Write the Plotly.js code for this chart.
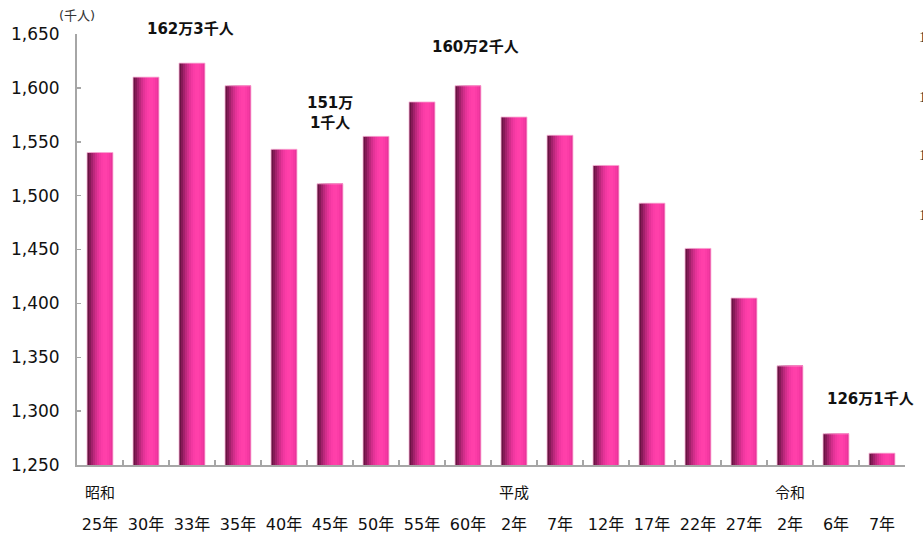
<!DOCTYPE html>
<html>
<head>
<meta charset="utf-8">
<script src="https://cdn.plot.ly/plotly-3.0.1.min.js"></script>
<style>
html,body{margin:0;padding:0;background:#fff;}
#chart{width:923px;height:535px;}
</style>
</head>
<body>
<div id="chart"></div>
<script>
// ---- data ----
const categories = ['昭和25年','昭和30年','昭和33年','昭和35年','昭和40年','昭和45年','昭和50年','昭和55年','昭和60年',
  '平成2年','平成7年','平成12年','平成17年','平成22年','平成27年','令和2年','令和6年','令和7年'];
const tickLabels = ['25年','30年','33年','35年','40年','45年','50年','55年','60年',
  '2年','7年','12年','17年','22年','27年','2年','6年','7年'];
const values = [1540,1610,1623,1602,1543,1511,1555,1587,1602,1573,1556,1528,1493,1451,1405,1342,1279,1261];
const eraLabels = [['昭和25年','昭和'],['平成2年','平成'],['令和2年','令和']];
const callouts = [
  {cat:'昭和33年', y:1655, text:'162万3千人', dx:-2},
  {cat:'昭和60年', y:1638, text:'160万2千人', dx:7},
  {cat:'昭和45年', y:1577, text:'151万<br>1千人', dx:0},
  {cat:'令和7年', y:1311, text:'126万1千人', dx:-12}
];
const unitLabel = '(千人)';
const yMin = 1250, yMax = 1650;

// ---- styling ----
const FONT = 'DejaVu Sans, Noto Sans CJK JP, sans-serif';
const stripeColors = ['#6a1343','#861a57','#a2216b','#bc287c','#d22e8b','#e53398','#f238a1','#fb3ca7','#ff3fa9','#ff40aa','#fc3ca7','#f538a2','#ea349b'];
const barWidth = 0.565;
const n = stripeColors.length;
const sw = barWidth / n;

// each stripe spans from its own left edge to the bar's right edge; later stripes cover earlier ones
const traces = stripeColors.map((c, i) => ({
  type: 'bar',
  x: categories,
  y: values,
  width: barWidth - i*sw,
  offset: -barWidth/2 + i*sw,
  marker: {color: c, line: {width: 0}},
  hoverinfo: 'skip',
  showlegend: false
}));
traces.push({
  type: 'bar',
  x: categories,
  y: values,
  width: barWidth,
  offset: -barWidth/2,
  marker: {color: 'rgba(0,0,0,0)', line: {color: 'rgba(250,185,218,0.85)', width: 1}},
  hoverinfo: 'skip',
  showlegend: false
});

const annotations = [];
callouts.forEach(c => annotations.push({
  xref: 'x', yref: 'paper', x: c.cat, y: (c.y - yMin) / (yMax - yMin), yanchor: 'middle',
  text: '<b>' + c.text + '</b>',
  showarrow: false, xshift: c.dx, font: {family: FONT, size: 15, color: '#111'}
}));
eraLabels.forEach(e => annotations.push({
  xref: 'x', yref: 'paper', x: e[0], y: -0.065, yanchor: 'middle', text: e[1],
  showarrow: false, font: {family: FONT, size: 15, color: '#111'}
}));
annotations.push({
  xref: 'paper', yref: 'paper', x: 0, y: 1.0, xanchor: 'center', yanchor: 'bottom', yshift: 9,
  text: unitLabel, showarrow: false, font: {family: FONT, size: 13, color: '#333'}
});
[37, 97, 155, 215].forEach(py => annotations.push({
  xref: 'paper', yref: 'paper', x: (917 - 77) / 828, y: (465 - py) / 431,
  xanchor: 'left', yanchor: 'middle', text: '1', showarrow: false,
  font: {family: 'Liberation Serif', size: 15, color: '#222'}
}));

const layout = {
  width: 923, height: 535,
  margin: {l: 77, r: 18, t: 34, b: 70},
  paper_bgcolor: '#fff', plot_bgcolor: '#fff',
  barmode: 'overlay',
  showlegend: false,
  font: {family: FONT, size: 16, color: '#111'},
  xaxis: {
    type: 'category',
    range: [-0.5, categories.length - 0.5],
    tickvals: categories,
    ticktext: tickLabels,
    tickangle: 0,
    showline: true, linecolor: '#a6a6a6', linewidth: 2,
    ticks: 'inside', tickson: 'boundaries', ticklen: 5, tickcolor: '#a6a6a6', tickwidth: 1.5,
    ticklabelstandoff: 44,
    tickfont: {family: FONT, size: 16, color: '#111'},
    showgrid: false, zeroline: false, fixedrange: true
  },
  yaxis: {
    range: [yMin, yMax],
    dtick: 50,
    tickformat: ',d',
    showline: true, linecolor: '#a6a6a6', linewidth: 2,
    ticks: 'inside', ticklen: 4, tickcolor: '#a6a6a6', tickwidth: 1.5,
    tickfont: {family: FONT, size: 17, color: '#111'},
    ticklabelstandoff: 12,
    showgrid: false, zeroline: false, fixedrange: true
  },
  annotations: annotations
};

Plotly.newPlot('chart', traces, layout, {displayModeBar: false, staticPlot: true});
</script>
</body>
</html>
